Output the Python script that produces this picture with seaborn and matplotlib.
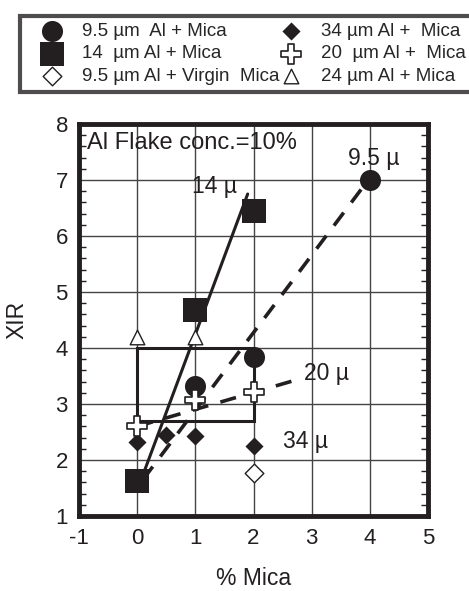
import matplotlib
matplotlib.use("Agg")
import matplotlib.pyplot as plt
import seaborn as sns
from matplotlib.patches import Rectangle
from matplotlib.ticker import MultipleLocator

# ---- data ----
x_95 = [1, 2, 4]
xir_95 = [3.33, 3.84, 7.0]
x_14 = [0, 1, 2]
xir_14 = [1.63, 4.67, 6.45]
x_virgin = [2]
xir_virgin = [1.77]
x_34 = [0, 0.5, 1, 2]
xir_34 = [2.32, 2.45, 2.43, 2.25]
x_20 = [0, 1, 2]
xir_20 = [2.6, 3.08, 3.22]
x_24 = [0, 1]
xir_24 = [4.2, 4.2]

fit95_x = [0.1, 3.9]
fit95_y = [1.65, 6.9]
fit14_x = [0.08, 1.9]
fit14_y = [1.68, 6.75]
fit20_x = [0.0, 2.8]
fit20_y = [2.6, 3.45]

box_x = [0, 2]
box_y = [2.7, 4.0]

labels = ["9.5 µm  Al + Mica", "14  µm Al + Mica", "9.5 µm Al + Virgin  Mica",
          "34 µm Al +  Mica", "20  µm Al +  Mica", "24 µm Al + Mica"]

sns.set_style("white")
plt.rcParams["font.family"] = ["Liberation Sans", "DejaVu Sans"]
plt.rcParams["axes.unicode_minus"] = False

W, H = 469, 591
fig = plt.figure(figsize=(W / 100, H / 100), dpi=100)
L, R, T, B = 79, 428, 124, 516
ax = fig.add_axes([L / W, 1 - B / H, (R - L) / W, (B - T) / H])

ax.set_xlim(-1, 5)
ax.set_ylim(1, 8)
ax.xaxis.set_major_locator(MultipleLocator(1))
ax.yaxis.set_major_locator(MultipleLocator(1))
ax.yaxis.set_minor_locator(MultipleLocator(0.2))
ax.grid(True, which="major", color="#444444", linewidth=1.0, zorder=0)
ax.set_axisbelow(True)
for s in ax.spines.values():
    s.set_linewidth(3.5)
    s.set_color("#231f20")
    s.set_visible(True)
ax.tick_params(axis="both", which="major", length=0, labelsize=16, colors="#231f20")
ax.tick_params(axis="x", which="major", pad=9)
ax.tick_params(axis="y", which="major", pad=8)
ax.tick_params(axis="y", which="minor", direction="in", length=5, width=1,
               left=True, right=True, color="#231f20")

# fit lines and box
fit_style = dict(color="#231f20", zorder=3)
sns.lineplot(x=fit14_x, y=fit14_y, ax=ax, linewidth=2.2, linestyle="-", **fit_style)
sns.lineplot(x=fit95_x, y=fit95_y, ax=ax, linewidth=2.6, **fit_style)
sns.lineplot(x=fit20_x, y=fit20_y, ax=ax, linewidth=2.6, **fit_style)
ax.lines[1].set_dashes([4.5, 3.5])
ax.lines[2].set_dashes([4.5, 3.5])
ax.add_patch(Rectangle((box_x[0], box_y[0]), box_x[1] - box_x[0], box_y[1] - box_y[0],
                       fill=False, edgecolor="#231f20", linewidth=2.2, zorder=3))

k = "#231f20"
sns.scatterplot(x=x_95, y=xir_95, ax=ax, marker="o", s=230, color=k, edgecolor=k,
                linewidth=0, label=labels[0], zorder=5)
sns.scatterplot(x=x_14, y=xir_14, ax=ax, marker="s", s=300, color=k, edgecolor=k,
                linewidth=0, label=labels[1], zorder=5)
sns.scatterplot(x=x_virgin, y=xir_virgin, ax=ax, marker="D", s=90, color="white",
                edgecolor=k, linewidth=1.0, label=labels[2], zorder=5)
sns.scatterplot(x=x_34, y=xir_34, ax=ax, marker="D", s=85, color=k, edgecolor=k,
                linewidth=0, label=labels[3], zorder=5)
sns.scatterplot(x=x_20, y=xir_20, ax=ax, marker="P", s=220, color="white",
                edgecolor=k, linewidth=1.2, label=labels[4], zorder=6)
sns.scatterplot(x=x_24, y=xir_24, ax=ax, marker="^", s=110, color="white",
                edgecolor=k, linewidth=1.0, label=labels[5], zorder=5)

handles, labs = ax.get_legend_handles_labels()
ax.get_legend().remove()
leg = fig.legend(handles, labs, ncol=2, loc="upper left", mode="expand",
                 bbox_to_anchor=(20 / W, 1 - 96 / H, (472 - 20) / W, (96 - 16) / H),
                 fontsize=13.5,
                 frameon=True, fancybox=False, borderpad=0.35, labelspacing=0.3,
                 handlelength=2.7, handletextpad=0.25, columnspacing=-0.56,
                 borderaxespad=0, markerscale=1.0)
leg.get_frame().set_edgecolor("#231f20")
leg.get_frame().set_linewidth(3.0)

# annotations
tk = dict(color="#231f20", va="baseline", ha="left")
ax.text(-0.86, 7.55, "Al Flake conc.=10%", fontsize=17, **tk)
ax.text(3.62, 7.27, "9.5 µ", fontsize=16.5, **tk)
ax.text(0.95, 6.77, "14 µ", fontsize=16.5, **tk)
ax.text(2.86, 3.43, "20 µ", fontsize=16.5, **tk)
ax.text(2.5, 2.21, "34 µ", fontsize=16.5, **tk)

ax.set_xlabel("% Mica", fontsize=16.5, color="#231f20")
ax.set_ylabel("XIR", fontsize=16.5, color="#231f20")
ax.xaxis.set_label_coords(0.5, -0.131)
ax.yaxis.set_label_coords(-0.146, 0.5)

fig.savefig("out.png", dpi=100)
